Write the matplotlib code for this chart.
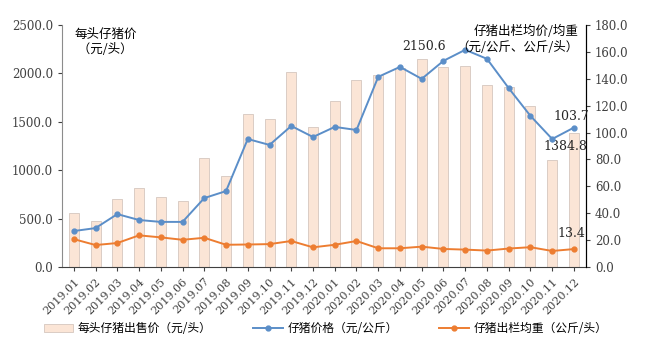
import numpy as np
import matplotlib.pyplot as plt

plt.rcParams['font.family'] = ['DejaVu Serif', 'Noto Sans CJK SC']

months = ['2019.01', '2019.02', '2019.03', '2019.04', '2019.05', '2019.06',
          '2019.07', '2019.08', '2019.09', '2019.10', '2019.11', '2019.12',
          '2020.01', '2020.02', '2020.03', '2020.04', '2020.05', '2020.06',
          '2020.07', '2020.08', '2020.09', '2020.10', '2020.11', '2020.12']
piglet_head = [558, 475, 702, 816, 723, 682, 1126, 940, 1581, 1529, 2014, 1446,
               1715, 1932, 1983, 2055, 2150.6, 2066, 2076, 1880, 1860, 1663, 1105, 1384.8]
piglet_price = [26.8, 29.0, 39.4, 35.0, 33.6, 33.6, 51.3, 56.5, 95.2, 90.8, 104.9, 96.7,
                104.2, 101.9, 141.4, 148.8, 139.9, 153.3, 161.5, 154.8, 133.0, 112.4, 95.2, 103.7]
piglet_weight = [20.8, 16.4, 17.9, 23.6, 22.1, 20.3, 21.8, 16.6, 16.8, 17.1, 19.4, 14.7,
                 16.6, 19.4, 14.0, 14.0, 15.2, 13.5, 13.0, 12.3, 13.8, 14.8, 12.0, 13.4]

x = np.arange(len(months))
cjk = ['Noto Sans CJK SC']

fig = plt.figure(figsize=(6.51, 3.46), dpi=100)
ax1 = fig.add_axes([0.095, 0.228, 0.805, 0.700])
ax2 = ax1.twinx()

b = ax1.bar(x, piglet_head, width=0.46, color='#FBE5D6', edgecolor='#D5C6BE',
            linewidth=0.6, zorder=1)
l1, = ax2.plot(x, piglet_price, color='#5B8EC8', lw=1.4, marker='o', ms=3.5)
l2, = ax2.plot(x, piglet_weight, color='#ED7D31', lw=1.4, marker='o', ms=3.5)

ax1.set_xlim(-0.55, len(months) - 0.45)
ax1.set_ylim(0, 2500)
ax2.set_ylim(0, 180)
ax1.set_yticks(np.arange(0, 2501, 500))
ax2.set_yticks(np.arange(0, 181, 20))
ax1.set_yticklabels(['%.1f' % v for v in np.arange(0, 2501, 500)])
ax2.set_yticklabels(['%.1f' % v for v in np.arange(0, 181, 20)])
ax1.set_xticks(x)
ax1.set_xticklabels(months, rotation=45, ha='right', rotation_mode='anchor')

for a in (ax1, ax2):
    a.spines['top'].set_visible(False)
    a.tick_params(labelsize=8.5, labelcolor='#404040', color='#404040', length=3)
ax1.spines['left'].set_color('#8c8c8c')
ax1.spines['bottom'].set_color('#404040')
ax2.spines['right'].set_color('#000000')
ax2.spines['left'].set_visible(False)
ax2.spines['bottom'].set_visible(False)
ax1.tick_params(axis='x', labelsize=8)

ax1.text(0.05, 2470, '每头仔猪价\n （元/头）', fontsize=9, va='top', ha='left',
         family=cjk, linespacing=1.25)
ax2.text(23.2, 180, '仔猪出栏均价/均重\n（元/公斤、公斤/头）', fontsize=9,
         va='top', ha='right', family=cjk, linespacing=1.25)

lab = dict(fontsize=9, ha='center', va='center', color='#262626')
ax1.text(16.1, 2273, '2150.6', **lab)
ax2.text(22.9, 112.3, '103.7', **lab)
ax1.text(22.6, 1240, '1384.8', **lab)
ax2.text(22.9, 25.3, '13.4', **lab)

fig.legend([b, l1, l2], ['每头仔猪出售价（元/头）', '仔猪价格（元/公斤）', '仔猪出栏均重（公斤/头）'],
           loc='lower center', bbox_to_anchor=(0.5, 0.0), ncol=3, frameon=False,
           prop={'family': cjk, 'size': 8.5}, columnspacing=3.5,
           handlelength=2.5, handletextpad=0.4)

fig.savefig('out.png', dpi=100)
